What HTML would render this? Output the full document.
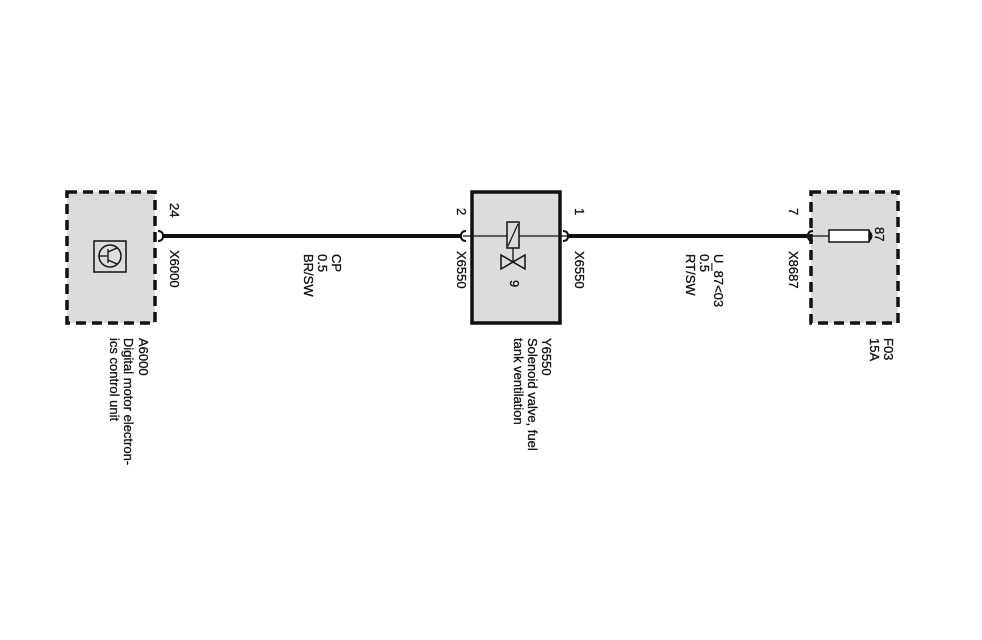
<!DOCTYPE html>
<html><head><style>html,body{margin:0;padding:0;background:#fff}svg{display:block}text{font-family:"Liberation Sans",Arial,sans-serif;font-size:13px;fill:#111;stroke:#111;stroke-width:0.3}</style></head>
<body>
<svg width="982" height="640" viewBox="0 0 982 640" xmlns="http://www.w3.org/2000/svg">
<rect x="67" y="192" width="88" height="131" fill="#dcdcdc" stroke="#111" stroke-width="3.5" stroke-dasharray="10,6"/>
<rect x="472" y="192" width="88" height="131" fill="#dcdcdc" stroke="#111" stroke-width="3.5"/>
<rect x="811" y="192" width="87" height="131" fill="#dcdcdc" stroke="#111" stroke-width="3.5" stroke-dasharray="10,6"/>
<line x1="163" y1="236" x2="461" y2="236" stroke="#111" stroke-width="4"/>
<line x1="568" y1="236" x2="808" y2="236" stroke="#111" stroke-width="4"/>
<line x1="463" y1="236" x2="568" y2="236" stroke="#111" stroke-width="1.2"/>
<line x1="808" y1="236" x2="829" y2="236" stroke="#111" stroke-width="1.2"/>
<path d="M158 231 q5 0 5 5 q0 5 -5 5" fill="none" stroke="#111" stroke-width="2"/>
<path d="M466 231 q-5 0 -5 5 q0 5 5 5" fill="none" stroke="#111" stroke-width="2"/>
<path d="M563 231 q5 0 5 5 q0 5 -5 5" fill="none" stroke="#111" stroke-width="2"/>
<path d="M813 231 q-5 0 -5 5 q0 5 5 5" fill="none" stroke="#111" stroke-width="2"/>
<rect x="94" y="241" width="32" height="31" fill="none" stroke="#111" stroke-width="1.5"/>
<circle cx="110" cy="256" r="11" fill="none" stroke="#111" stroke-width="1.5"/>
<path d="M99 256 h9 M108 249 v14 M108 252 l9 -4 M108 260 l9 4" stroke="#111" stroke-width="1.3" fill="none"/>
<rect x="507" y="222" width="12" height="26" fill="#dcdcdc" stroke="#111" stroke-width="1.5"/>
<line x1="508" y1="246" x2="518" y2="224" stroke="#111" stroke-width="1.2"/>
<line x1="513" y1="248" x2="513" y2="262" stroke="#111" stroke-width="1.3"/>
<path d="M501 255 L525 269 L525 255 L501 269 Z" fill="none" stroke="#111" stroke-width="1.5"/>
<rect x="829" y="230" width="40" height="12" fill="#fff" stroke="#111" stroke-width="1.5"/>
<path d="M869 230 q7 6 0 12 Z" fill="#111"/>
<g>
<text transform="translate(170,203) rotate(90)">24</text>
<text transform="translate(170,250) rotate(90)">X6000</text>
<text transform="translate(332,254) rotate(90)">CP</text>
<text transform="translate(318,254) rotate(90)">0.5</text>
<text transform="translate(304,254) rotate(90)">BR/SW</text>
<text transform="translate(139,338) rotate(90)">A6000</text>
<text transform="translate(124,338) rotate(90)">Digital motor electron-</text>
<text transform="translate(110,338) rotate(90)">ics control unit</text>
<text transform="translate(457,208) rotate(90)">2</text>
<text transform="translate(457,251) rotate(90)">X6550</text>
<text transform="translate(575,208) rotate(90)">1</text>
<text transform="translate(575,251) rotate(90)">X6550</text>
<text transform="translate(510,280) rotate(90)">9</text>
<text transform="translate(542,338) rotate(90)">Y6550</text>
<text transform="translate(528,338) rotate(90)">Solenoid valve, fuel</text>
<text transform="translate(514,338) rotate(90)">tank ventilation</text>
<text transform="translate(714,254) rotate(90)">U_87&lt;03</text>
<text transform="translate(700,254) rotate(90)">0.5</text>
<text transform="translate(686,254) rotate(90)">RT/SW</text>
<text transform="translate(789,208) rotate(90)">7</text>
<text transform="translate(789,251) rotate(90)">X8687</text>
<text transform="translate(875,227) rotate(90)">87</text>
<text transform="translate(884,338) rotate(90)">F03</text>
<text transform="translate(870,338) rotate(90)">15A</text>
</g>
</svg>
</body></html>
